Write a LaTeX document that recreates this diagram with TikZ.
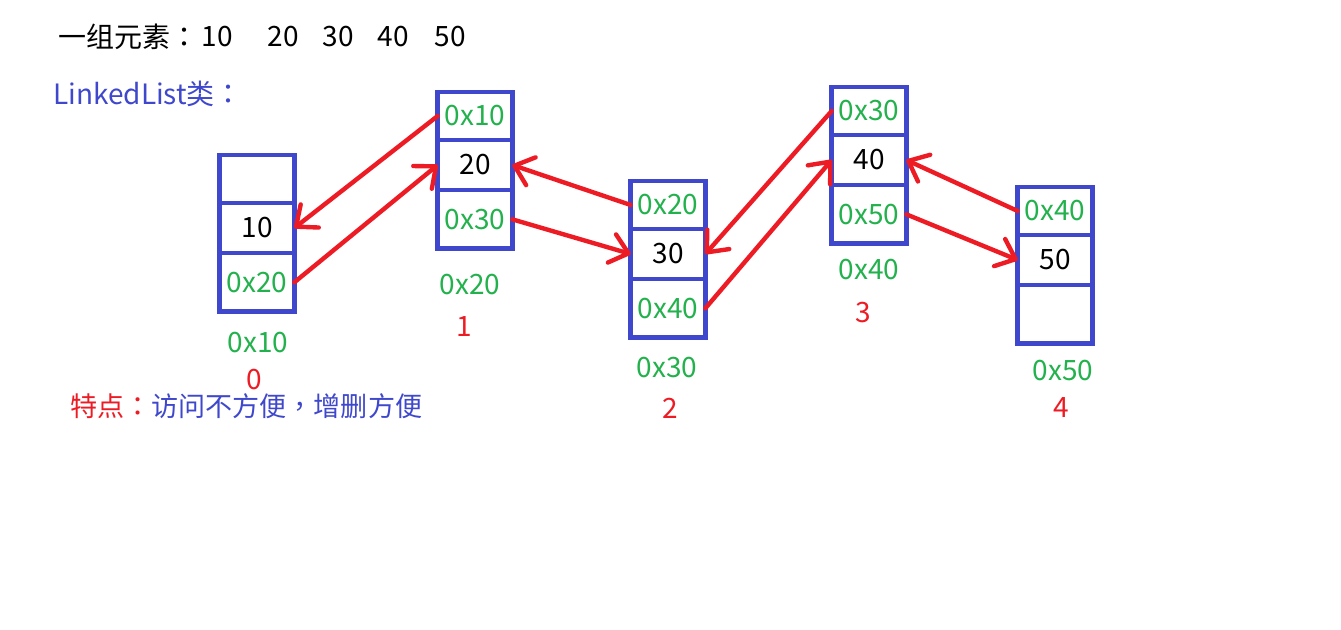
\documentclass[tikz,border=0pt]{standalone}
\usepackage{fontspec}
\setmainfont{Noto Sans CJK SC}
\newfontfamily\punct{Noto Sans CJK TC}
\usetikzlibrary{positioning, arrows.meta}
\definecolor{boxblue}{RGB}{63,72,204}
\definecolor{addrgreen}{RGB}{34,177,76}
\definecolor{linkred}{RGB}{237,28,36}
\tikzstyle{cell} = [rectangle, draw=boxblue, line width=3.5pt, outer sep=0pt, inner sep=0pt, minimum width=56pt, minimum height=37.5pt, font=\fontsize{21}{25}\selectfont]
\tikzstyle{topcell} = [cell, minimum height=36pt, anchor=north]
\tikzstyle{lastcell} = [cell, minimum height=44pt]
\tikzstyle{addr} = [text=addrgreen]
\tikzstyle{plain} = [inner sep=0pt, font=\fontsize{21}{25}\selectfont]
\tikzstyle{link} = [line width=3.3pt, draw=linkred, line cap=round, -{Straight Barb[length=13pt,width=22pt,round]}]

\begin{document}
\begin{tikzpicture}[x=0.75pt, y=-0.75pt]
        \useasboundingbox (0,0) rectangle (1341,630);
        % header
        \node (title) [plain, anchor=west] at (58,37) {一组元素{\punct ：}};
        \node (e10) [plain] at (217,37) {10};
        \node (e20) [plain] at (283,37) {20};
        \node (e30) [plain] at (338,37) {30};
        \node (e40) [plain] at (393,37) {40};
        \node (e50) [plain] at (450,37) {50};
        \node (cls) [plain, anchor=west, text=boxblue] at (53,94) {LinkedList类{\punct ：}};

        % node 0
        \node (n0a) [topcell] at (257,155) {};
        \node (n0b) [cell, below=0pt of n0a] {10};
        \node (n0c) [lastcell, addr, below=0pt of n0b] {0x20};
        % node 1
        \node (n1a) [topcell, addr] at (475,92) {0x10};
        \node (n1b) [cell, below=0pt of n1a] {20};
        \node (n1c) [lastcell, addr, below=0pt of n1b] {0x30};
        % node 2
        \node (n2a) [topcell, addr] at (668,181) {0x20};
        \node (n2b) [cell, below=0pt of n2a] {30};
        \node (n2c) [lastcell, addr, below=0pt of n2b] {0x40};
        % node 3
        \node (n3a) [topcell, addr] at (869,87) {0x30};
        \node (n3b) [cell, below=0pt of n3a] {40};
        \node (n3c) [lastcell, addr, below=0pt of n3b] {0x50};
        % node 4
        \node (n4a) [topcell, addr] at (1055,187) {0x40};
        \node (n4b) [cell, below=0pt of n4a] {50};
        \node (n4c) [lastcell, below=0pt of n4b] {};

        % addresses and indices
        \node (a0) [plain, addr] at (258,343) {0x10};
        \node (i0) [plain, text=linkred] at (254,380) {0};
        \node (a1) [plain, addr] at (470,285) {0x20};
        \node (i1) [plain, text=linkred] at (464,327) {1};
        \node (a2) [plain, addr] at (667,368) {0x30};
        \node (i2) [plain, text=linkred] at (670,408) {2};
        \node (a3) [plain, addr] at (869,270) {0x40};
        \node (i3) [plain, text=linkred] at (863,313) {3};
        \node (a4) [plain, addr] at (1063,371) {0x50};
        \node (i4) [plain, text=linkred] at (1061,408) {4};

        \node (note) [plain, anchor=west, text=boxblue, font=\fontsize{20.3}{24}\selectfont] at (70,406) {\textcolor{linkred}{特点{\punct ：}}访问不方便{\punct ，}增删方便};

        % links
        \draw [link] (n1a.west) -- (n0b.east);
        \draw [link] (n0c.east) -- (n1b.west);
        \draw [link] (n2a.west) -- (n1b.east);
        \draw [link] (n1c.east) -- (n2b.west);
        \draw [link] (n3a.west) -- (n2b.east);
        \draw [link] (n2c.east) -- (n3b.west);
        \draw [link] (n4a.west) -- (n3b.east);
        \draw [link] (n3c.east) -- (n4b.west);
\end{tikzpicture}
\end{document}
